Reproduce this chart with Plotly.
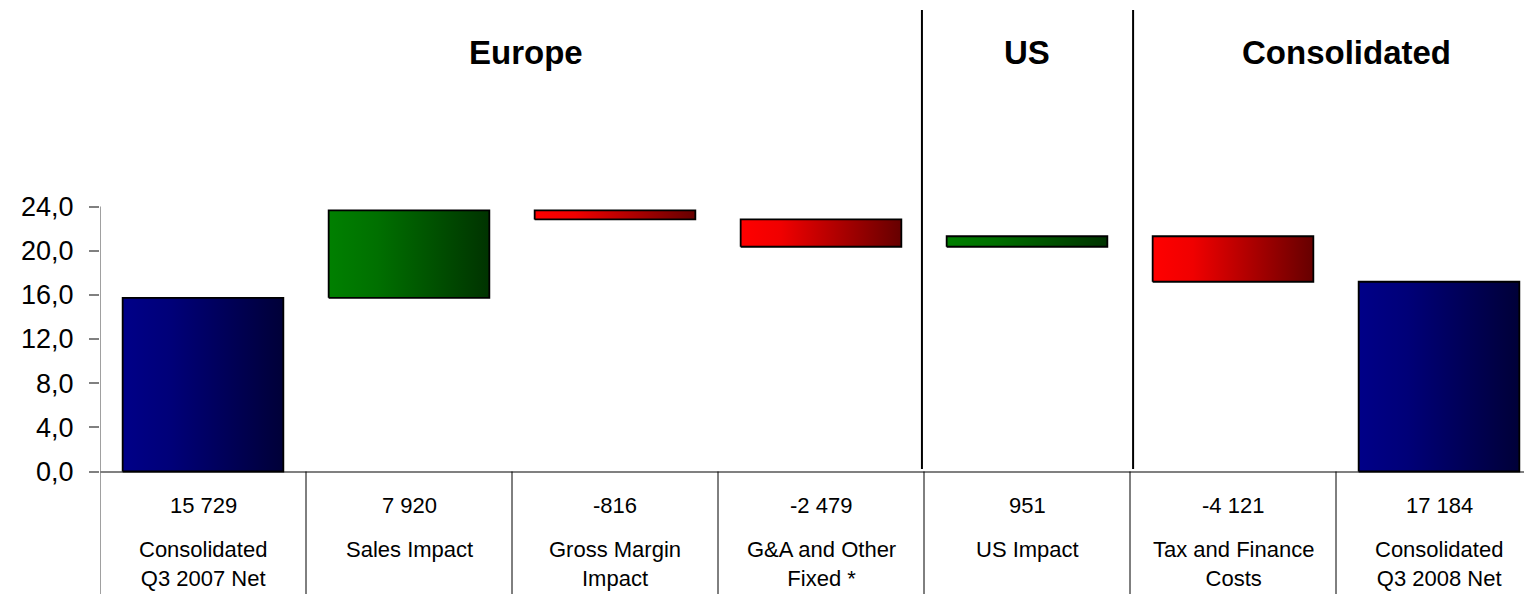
import plotly.graph_objects as go

# ---- data -------------------------------------------------------------
step_labels = [
    "Consolidated<br>Q3 2007 Net",
    "Sales Impact",
    "Gross Margin<br>Impact",
    "G&A and Other<br>Fixed *",
    "US Impact",
    "Tax and Finance<br>Costs",
    "Consolidated<br>Q3 2008 Net",
]
step_values = [15729, 7920, -816, -2479, 951, -4121, 17184]
step_kinds = ["total", "delta", "delta", "delta", "delta", "delta", "total"]
region_names = ["Europe", "US", "Consolidated"]
y_tick_values = [0, 4, 8, 12, 16, 20, 24]

# ---- styling ----------------------------------------------------------
FONT = "Liberation Sans, Arial, sans-serif"
BAR_WIDTH = 0.78
GRADIENTS = {
    "total": [[0, "#000088"], [0.3, "#000078"], [1, "#000038"]],
    "up": [[0, "#008000"], [0.3, "#007000"], [1, "#003300"]],
    "down": [[0, "#FF0000"], [0.25, "#F00000"], [1, "#660000"]],
}

fig = go.Figure()

# waterfall bars: each step drawn as a filled rectangle with a horizontal gradient
running = 0.0
for i, (val, kind) in enumerate(zip(step_values, step_kinds)):
    v = val / 1000.0
    if kind == "total":
        lo, hi = 0.0, v
        running = v
        style = "total"
    else:
        lo, hi = sorted([running, running + v])
        running += v
        style = "up" if v > 0 else "down"
    x0, x1 = i - BAR_WIDTH / 2, i + BAR_WIDTH / 2
    fig.add_trace(go.Scatter(
        x=[x0, x1, x1, x0, x0],
        y=[lo, lo, hi, hi, lo],
        mode="lines",
        fill="toself",
        fillgradient=dict(type="horizontal", colorscale=GRADIENTS[style],
                          start=x0, stop=x1),
        line=dict(color="#000000", width=1.8),
        hoverinfo="skip",
        showlegend=False,
    ))

# table beneath the bars: value row and category names
for i, (val, lab) in enumerate(zip(step_values, step_labels)):
    fig.add_annotation(x=i, y=1 - 505 / 594, xref="x", yref="paper",
                       text=f"{val:,}".replace(",", " "), showarrow=False,
                       font=dict(family=FONT, size=22, color="#000000"),
                       xanchor="center", yanchor="middle")
    fig.add_annotation(x=i, y=1 - 535 / 594, xref="x", yref="paper",
                       text=lab, showarrow=False,
                       font=dict(family=FONT, size=22, color="#000000"),
                       xanchor="center", yanchor="top", align="center")

# region headers
for name, xpos in zip(region_names, [1.57, 4.0, 5.55]):
    fig.add_annotation(x=xpos, y=1 - 53 / 594, xref="x", yref="paper",
                       text=f"<b>{name}</b>", showarrow=False,
                       font=dict(family=FONT, size=33, color="#000000"),
                       xanchor="center", yanchor="middle")

shapes = []
# y axis line, continuing down as the left border of the table
shapes.append(dict(type="line", xref="x", yref="y", x0=-0.5, x1=-0.5,
                   y0=24, y1=-12, line=dict(color="#808080", width=1.5)))
# table column separators
for k in range(len(step_values) - 1):
    shapes.append(dict(type="line", xref="x", yref="paper", x0=k + 0.5, x1=k + 0.5,
                       y0=0, y1=1 - 471.5 / 594, line=dict(color="#000000", width=1)))
# region separators
for xs in [3.49, 4.515]:
    shapes.append(dict(type="line", xref="x", yref="paper", x0=xs, x1=xs,
                       y0=1 - 469 / 594, y1=1 - 10 / 594,
                       line=dict(color="#000000", width=2)))

px_per_unit = (471.5 - 206.5) / 24
x_end = -0.5 + (1524 - 100) / 206.0

fig.update_layout(
    width=1524, height=594,
    margin=dict(l=100, r=0, t=0, b=0),
    paper_bgcolor="#FFFFFF", plot_bgcolor="#FFFFFF",
    separators=", ",
    shapes=shapes,
    showlegend=False,
    xaxis=dict(range=[-0.5, x_end], showgrid=False, zeroline=False,
               showticklabels=False, ticks="", showline=False, fixedrange=True),
    yaxis=dict(range=[-(594 - 471.5) / px_per_unit, 471.5 / px_per_unit],
               tickvals=y_tick_values, tickformat=".1f",
               ticks="outside", ticklen=10, tickcolor="#808080", tickwidth=1.5,
               ticklabelstandoff=10,
               tickfont=dict(family=FONT, size=27, color="#000000"),
               showgrid=False, showline=False,
               zeroline=True, zerolinecolor="#808080", zerolinewidth=1.5,
               fixedrange=True),
)

fig.write_html("out.html")
